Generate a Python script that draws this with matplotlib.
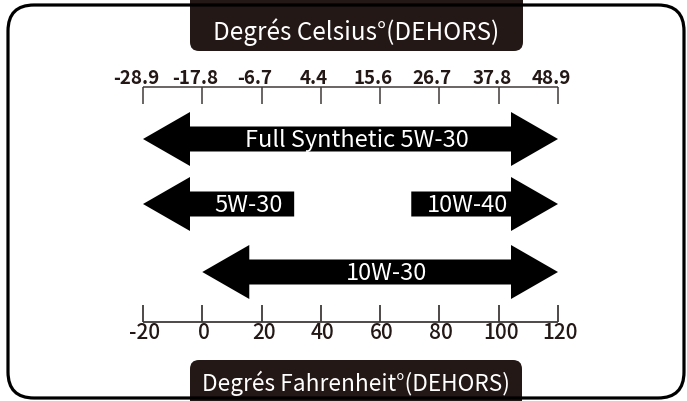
import matplotlib
matplotlib.use("Agg")
import matplotlib.pyplot as plt
from matplotlib.patches import FancyBboxPatch, Polygon
from matplotlib.transforms import offset_copy

# scale: Fahrenheit ticks with their Celsius equivalents
fahrenheit_ticks = [-20, 0, 20, 40, 60, 80, 100, 120]
celsius_labels = ["-28.9", "-17.8", "-6.7", "4.4", "15.6", "26.7", "37.8", "48.9"]

# oil grades and the temperature range (in °F) each covers
grades = ["Full Synthetic 5W-30", "5W-30", "10W-40", "10W-30"]
grade_low = [-20, -20, 70.5, 0]
grade_high = [120, 31, 120, 120]
open_low = [True, True, False, True]    # arrow head on the cold side
open_high = [True, False, True, True]   # arrow head on the hot side

title_top = "Degrés Celsius°(DEHORS)"
title_bottom = "Degrés Fahrenheit°(DEHORS)"

FONT = ["Noto Sans CJK JP", "DejaVu Sans"]
DARK = "#231815"
LINE = "#3e3a39"

W, H = 687, 402
PX = (558 - 143) / 140.0          # pixels per °F
row_y = [140, 205, 205, 273]      # vertical position of each arrow (px)

fig = plt.figure(figsize=(W / 100, H / 100), dpi=100)

# decoration layer in pixel units
deco = fig.add_axes([0, 0, 1, 1])
deco.set_xlim(0, W)
deco.set_ylim(H, 0)
deco.axis("off")
deco.add_patch(FancyBboxPatch((190, -20), 333, 72, boxstyle="round,pad=0,rounding_size=9",
                              fc=DARK, ec="none", zorder=1))
deco.add_patch(FancyBboxPatch((190, 361), 332, 60, boxstyle="round,pad=0,rounding_size=9",
                              fc=DARK, ec="none", zorder=1))
deco.add_patch(FancyBboxPatch((8, 6), 676, 393, boxstyle="round,pad=0,rounding_size=26",
                              fill=False, ec="black", lw=2.3, zorder=2))
deco.text(356, 32, title_top, color="white", fontsize=17.5, family=FONT,
          ha="center", va="center", zorder=3)
deco.text(356, 383, title_bottom, color="white", fontsize=16.3, family=FONT,
          ha="center", va="center", zorder=3)

# chart layer: x in °F, y in pixels
ax = fig.add_axes([0, 0, 1, 1])
ax.set_xlim(-20 - 143 / PX, -20 + (W - 143) / PX)
ax.set_ylim(H, 0)
ax.axis("off")

lo_f, hi_f = fahrenheit_ticks[0], fahrenheit_ticks[-1]

# Celsius bracket on top
ax.hlines(88, lo_f, hi_f, color=LINE, lw=1.1)
ax.vlines(fahrenheit_ticks, 88, 105, color=LINE, lw=1.1)
shift_left = offset_copy(ax.transData, fig=fig, x=-7, y=0, units="dots")
for f, lab in zip(fahrenheit_ticks, celsius_labels):
    ax.text(f, 79, lab, transform=shift_left, fontsize=13.5, fontweight="bold",
            family=FONT, color=DARK, ha="center", va="center")

# Fahrenheit scale at bottom
ax.hlines(323, lo_f, hi_f, color=LINE, lw=1.3)
ax.vlines(fahrenheit_ticks, 306, 323, color=LINE, lw=1.3)
shift_right = offset_copy(ax.transData, fig=fig, x=2, y=0, units="dots")
for f in fahrenheit_ticks:
    ax.text(f, 333, str(f), transform=shift_right, fontsize=15, fontweight="medium",
            family=FONT, color=DARK, ha="center", va="center")

# range arrows
head_len = 47 / PX
head_half = 27
shaft_half = 12.5
for name, lo, hi, hl_lo, hl_hi, y in zip(grades, grade_low, grade_high,
                                         open_low, open_high, row_y):
    a = lo + head_len if hl_lo else lo
    b = hi - head_len if hl_hi else hi
    pts = []
    if hl_lo:
        pts += [(lo, y), (a, y - head_half), (a, y - shaft_half)]
    else:
        pts += [(lo, y - shaft_half)]
    if hl_hi:
        pts += [(b, y - shaft_half), (b, y - head_half), (hi, y),
                (b, y + head_half), (b, y + shaft_half)]
    else:
        pts += [(hi, y - shaft_half), (hi, y + shaft_half)]
    if hl_lo:
        pts += [(a, y + shaft_half), (a, y + head_half)]
    else:
        pts += [(lo, y + shaft_half)]
    ax.add_patch(Polygon(pts, closed=True, fc="black", ec="none"))
    ax.text((a + b) / 2 + 2, y + 1, name, color="white", fontsize=17, family=FONT,
            ha="center", va="center")

fig.savefig("out.png", dpi=100)
